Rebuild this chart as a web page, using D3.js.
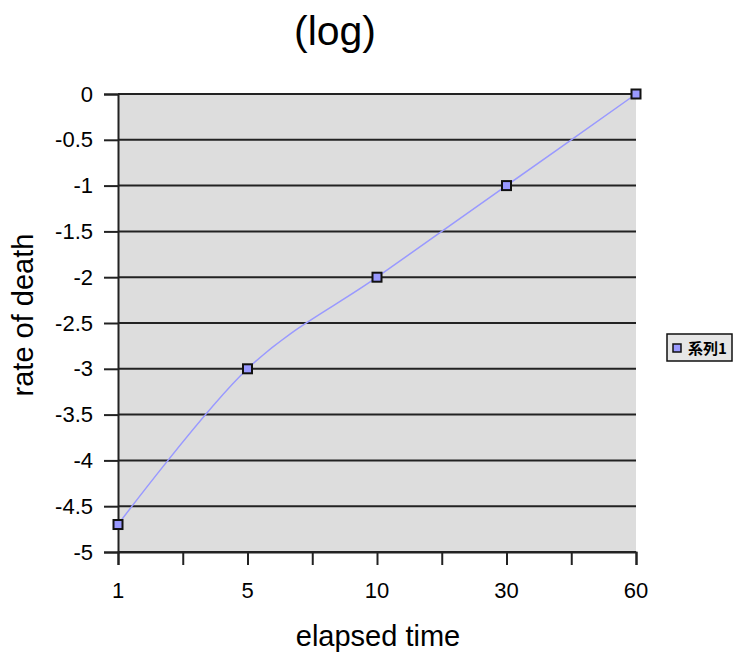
<!DOCTYPE html>
<html>
<head>
<meta charset="utf-8">
<script src="https://cdn.jsdelivr.net/npm/d3@7"></script>
<style>
  body { margin: 0; background: #fff; }
  text { font-family: "Liberation Sans", Arial, sans-serif; fill: #000; }
</style>
</head>
<body>
<svg id="chart" width="736" height="659"></svg>
<script>
// chart data
const categories = ['1', '5', '10', '30', '60'];
const values = [-4.7, -3, -2, -1, 0];
const yTicks = [0, -0.5, -1, -1.5, -2, -2.5, -3, -3.5, -4, -4.5, -5];
const seriesName = '系列1';

const svg = d3.select('#chart');

// plot area
const plotLeft = 118, plotRight = 636, plotTop = 94, plotBottom = 552;

const x = d3.scaleLinear().domain([0, categories.length - 1]).range([plotLeft, plotRight]);
const y = d3.scaleLinear().domain([-5, 0]).range([plotBottom, plotTop]);

// gray plot background
svg.append('rect')
	.attr('x', plotLeft)
	.attr('y', plotTop)
	.attr('width', plotRight - plotLeft)
	.attr('height', plotBottom - plotTop)
	.style('fill', '#dddddd');

// gridlines
svg.selectAll('line.grid')
	.data(yTicks)
	.enter()
	.append('line')
	.classed('grid', true)
	.attr('x1', plotLeft)
	.attr('x2', plotRight)
	.attr('y1', d => y(d))
	.attr('y2', d => y(d))
	.style('stroke', '#222')
	.style('stroke-width', 2);

// y axis
const yAxis = svg.append('g')
	.attr('transform', `translate(${plotLeft},0)`)
	.call(d3.axisLeft(y).tickValues(yTicks).tickSize(14).tickPadding(11).tickFormat(d => String(d)));
yAxis.select('.domain').style('stroke', '#222').style('stroke-width', 2);
yAxis.selectAll('.tick line').style('stroke', '#222').style('stroke-width', 2);
yAxis.selectAll('text')
	.style('font-family', '"Liberation Sans", Arial, sans-serif')
	.style('font-size', '22px')
	.style('fill', '#000');

// x axis: ticks at every category and halfway between
const xTicks = d3.range(0, categories.length - 0.5, 0.5);
const xAxis = svg.append('g')
	.attr('transform', `translate(0,${plotBottom})`)
	.call(d3.axisBottom(x).tickValues(xTicks).tickSize(13).tickFormat(''));
xAxis.select('.domain').style('stroke', '#222').style('stroke-width', 2);
xAxis.selectAll('.tick line').style('stroke', '#222').style('stroke-width', 2);

svg.selectAll('text.xlabel')
	.data(categories)
	.enter()
	.append('text')
	.classed('xlabel', true)
	.attr('x', (d, i) => x(i))
	.attr('y', 598)
	.attr('text-anchor', 'middle')
	.style('font-size', '22px')
	.text(d => d);

// smoothed series line
const line = d3.line()
	.x((d, i) => x(i))
	.y(d => y(d))
	.curve(d3.curveCardinal);

svg.append('path')
	.datum(values)
	.attr('d', line)
	.style('fill', 'none')
	.style('stroke', '#9999ff')
	.style('stroke-width', 1.5);

// markers
svg.selectAll('rect.dot')
	.data(values)
	.enter()
	.append('rect')
	.classed('dot', true)
	.attr('x', (d, i) => x(i) - 4.5)
	.attr('y', d => y(d) - 4.5)
	.attr('width', 9)
	.attr('height', 9)
	.style('fill', '#9999ff')
	.style('stroke', '#111')
	.style('stroke-width', 2);

// titles
svg.append('text')
	.attr('x', 335)
	.attr('y', 45)
	.attr('text-anchor', 'middle')
	.style('font-size', '41px')
	.text('(log)');

svg.append('text')
	.attr('x', 378)
	.attr('y', 646)
	.attr('text-anchor', 'middle')
	.style('font-size', '29px')
	.text('elapsed time');

svg.append('text')
	.attr('transform', 'translate(33,315) rotate(-90)')
	.attr('text-anchor', 'middle')
	.style('font-size', '29px')
	.text('rate of death');

// legend
const legend = svg.append('g');
legend.append('rect')
	.attr('x', 667)
	.attr('y', 334)
	.attr('width', 65)
	.attr('height', 27)
	.style('fill', '#e6e6e6')
	.style('stroke', '#111')
	.style('stroke-width', 1.5);
legend.append('rect')
	.attr('x', 673)
	.attr('y', 344)
	.attr('width', 8)
	.attr('height', 8)
	.style('fill', '#9999ff')
	.style('stroke', '#111')
	.style('stroke-width', 1.5);
legend.append('text')
	.attr('x', 688)
	.attr('y', 354)
	.style('font-family', '"Noto Sans CJK JP", sans-serif')
	.style('font-size', '15px')
	.style('font-weight', 'bold')
	.text(seriesName);
</script>
</body>
</html>
